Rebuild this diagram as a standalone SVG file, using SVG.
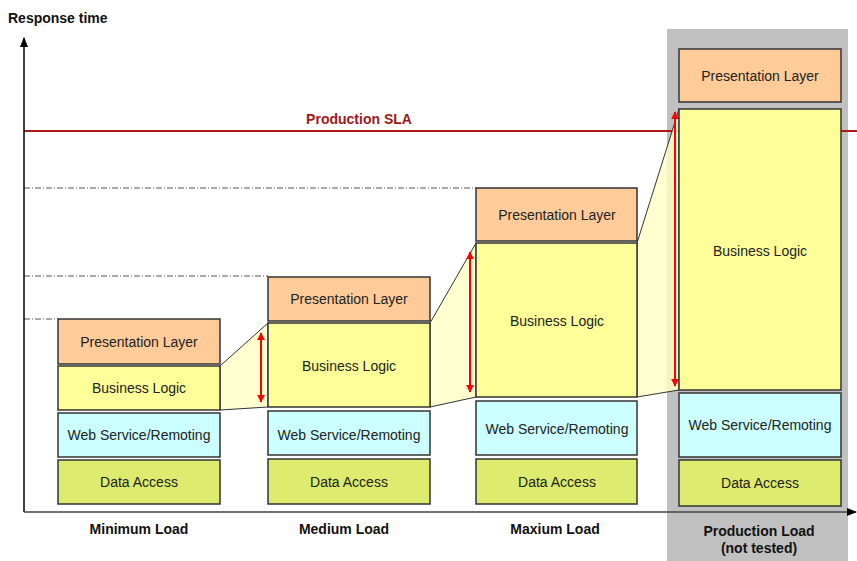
<svg xmlns="http://www.w3.org/2000/svg" width="857" height="561" viewBox="0 0 857 561">
<defs>
<style>
.box{stroke:#333;stroke-width:1.5}
.pl{fill:#FFCC99}.bl{fill:#FFFF99}.ws{fill:#CCFFFF}.da{fill:#DDEB6E}
.t{font-family:"Liberation Sans",Arial,sans-serif;font-size:14px;fill:#222;text-anchor:middle}
.lb{font-family:"Liberation Sans",Arial,sans-serif;font-size:14px;font-weight:bold;fill:#111;text-anchor:middle}
.dd{stroke:#555;stroke-width:1;stroke-dasharray:6,2,1,2;fill:none}
.trap{fill:#FFFFC4;fill-opacity:0.8;stroke:#333;stroke-width:1}
.ra{stroke:#F00;stroke-width:2;marker-start:url(#rh);marker-end:url(#rh)}
</style>
<marker id="rh" viewBox="0 0 10 10" refX="9" refY="5" markerWidth="4" markerHeight="4" orient="auto-start-reverse"><path d="M0,0L10,5L0,10z" fill="#F00"/></marker>
<marker id="bh" viewBox="0 0 10 10" refX="9" refY="5" markerWidth="7" markerHeight="7" orient="auto"><path d="M0,1L10,5L0,9z" fill="#000"/></marker>
</defs>
<rect width="857" height="561" fill="#fff"/>
<rect id="prodpanel" x="667" y="29" width="181" height="532" fill="#C0C0C0"/>
<g id="guides">
<line class="dd" x1="24" y1="188" x2="476" y2="188"/>
<line class="dd" x1="24" y1="276" x2="268" y2="276"/>
<line class="dd" x1="24" y1="319" x2="58" y2="319"/>
</g>
<g id="sla">
<line x1="24" y1="131" x2="857" y2="131" stroke="#B01818" stroke-width="2"/>
<text x="359" y="124" font-family="Liberation Sans,Arial,sans-serif" font-size="14" font-weight="bold" fill="#A01818" text-anchor="middle">Production SLA</text>
</g>
<g id="connectors">
<polygon class="trap" points="220,366 268,323 268,407 220,410"/>
<polygon class="trap" points="430,323 476,243 476,397 430,407"/>
<polygon class="trap" points="637,243 679,109 679,390 637,397"/>
<line class="ra" x1="261" y1="333" x2="261" y2="402"/>
<line class="ra" x1="470" y1="252" x2="470" y2="392"/>
<line class="ra" x1="675" y1="112" x2="675" y2="386"/>
</g>
<g id="axes">
<line x1="24" y1="512" x2="24" y2="38" stroke="#000" stroke-width="1.5" marker-end="url(#bh)"/>
<line x1="24" y1="512" x2="856" y2="512" stroke="#444" stroke-width="1.5" marker-end="url(#bh)"/>
<text x="8" y="23" font-family="Liberation Sans,Arial,sans-serif" font-size="14" font-weight="bold" fill="#111">Response time</text>
</g>
<g id="min-load">
<rect class="box pl" x="58" y="319" width="162" height="45"/><text class="t" x="139" y="347">Presentation Layer</text>
<rect class="box bl" x="58" y="366" width="162" height="44"/><text class="t" x="139" y="393">Business Logic</text>
<rect class="box ws" x="58" y="413" width="162" height="44"/><text class="t" x="139" y="440">Web Service/Remoting</text>
<rect class="box da" x="58" y="460" width="162" height="44"/><text class="t" x="139" y="487">Data Access</text>
<text class="lb" x="139" y="534">Minimum Load</text>
</g>
<g id="medium-load">
<rect class="box pl" x="268" y="277" width="162" height="44"/><text class="t" x="349" y="304">Presentation Layer</text>
<rect class="box bl" x="268" y="323" width="162" height="84"/><text class="t" x="349" y="371">Business Logic</text>
<rect class="box ws" x="268" y="411" width="162" height="44"/><text class="t" x="349" y="440">Web Service/Remoting</text>
<rect class="box da" x="268" y="459" width="162" height="45"/><text class="t" x="349" y="487">Data Access</text>
<text class="lb" x="344" y="534">Medium Load</text>
</g>
<g id="max-load">
<rect class="box pl" x="476" y="188" width="161" height="53"/><text class="t" x="557" y="220">Presentation Layer</text>
<rect class="box bl" x="476" y="243" width="161" height="154"/><text class="t" x="557" y="326">Business Logic</text>
<rect class="box ws" x="476" y="401" width="161" height="54"/><text class="t" x="557" y="434">Web Service/Remoting</text>
<rect class="box da" x="476" y="459" width="161" height="45"/><text class="t" x="557" y="487">Data Access</text>
<text class="lb" x="555" y="534">Maxium Load</text>
</g>
<g id="production-load">
<rect class="box pl" x="679" y="49" width="162" height="53"/><text class="t" x="760" y="81">Presentation Layer</text>
<rect class="box bl" x="679" y="109" width="162" height="281"/><text class="t" x="760" y="256">Business Logic</text>
<rect class="box ws" x="679" y="393" width="162" height="64"/><text class="t" x="760" y="430">Web Service/Remoting</text>
<rect class="box da" x="679" y="460" width="162" height="46"/><text class="t" x="760" y="488">Data Access</text>
<text class="lb" x="759" y="536">Production Load</text>
<text class="lb" x="759" y="553">(not tested)</text>
</g>
</svg>
